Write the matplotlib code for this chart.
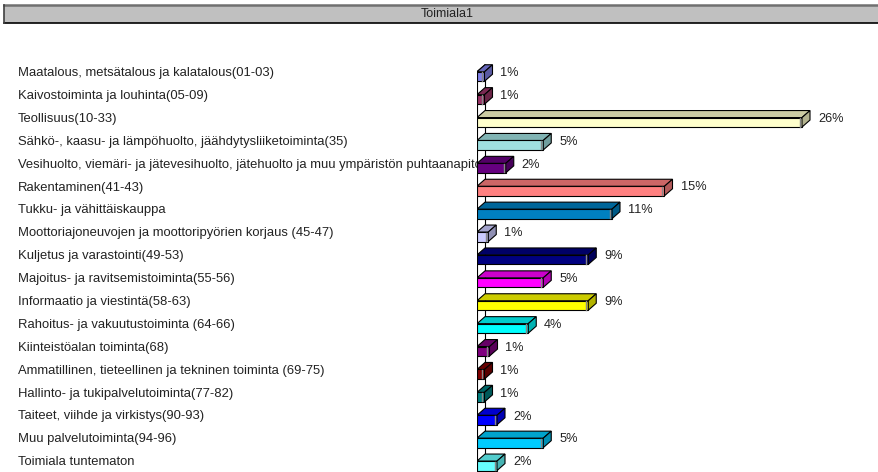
import matplotlib.pyplot as plt
from matplotlib.patches import Polygon, Rectangle
from matplotlib.lines import Line2D
from matplotlib.transforms import blended_transform_factory, Bbox, TransformedBbox

plt.rcParams['font.family'] = ['Liberation Sans', 'DejaVu Sans']

title = 'Toimiala1'
categories = [
    'Maatalous, metsätalous ja kalatalous(01-03)',
    'Kaivostoiminta ja louhinta(05-09)',
    'Teollisuus(10-33)',
    'Sähkö-, kaasu- ja lämpöhuolto, jäähdytysliiketoiminta(35)',
    'Vesihuolto, viemäri- ja jätevesihuolto, jätehuolto ja muu ympäristön puhtaanapito(36-39)',
    'Rakentaminen(41-43)',
    'Tukku- ja vähittäiskauppa',
    'Moottoriajoneuvojen ja moottoripyörien korjaus (45-47)',
    'Kuljetus ja varastointi(49-53)',
    'Majoitus- ja ravitsemistoiminta(55-56)',
    'Informaatio ja viestintä(58-63)',
    'Rahoitus- ja vakuutustoiminta (64-66)',
    'Kiinteistöalan toiminta(68)',
    'Ammatillinen, tieteellinen ja tekninen toiminta (69-75)',
    'Hallinto- ja tukipalvelutoiminta(77-82)',
    'Taiteet, viihde ja virkistys(90-93)',
    'Muu palvelutoiminta(94-96)',
    'Toimiala tuntematon',
]
values = [0.6, 0.6, 26.0, 5.3, 2.3, 15.0, 10.8, 0.9, 8.9, 5.3, 8.9, 4.1, 1.0, 0.6, 0.6, 1.6, 5.3, 1.6]
pct_labels = ['1%', '1%', '26%', '5%', '2%', '15%', '11%', '1%', '9%', '5%',
              '9%', '4%', '1%', '1%', '1%', '2%', '5%', '2%']
colors = ['#8080E8', '#993366', '#FFFFCC', '#A0E0E0', '#660080', '#FF8080',
          '#0080C0', '#CCCCFF', '#000080', '#FF00FF', '#FFFF00', '#00FFFF',
          '#800080', '#800000', '#008080', '#0000FF', '#00CCFF', '#66FFFF']


def darker(c, f=0.8):
    r, g, b = int(c[1:3], 16), int(c[3:5], 16), int(c[5:7], 16)
    return (r / 255 * f, g / 255 * f, b / 255 * f)


W, H = 879, 472
fig = plt.figure(figsize=(W / 100, H / 100), dpi=100)

# plot area: x=0 at pixel 477, 12.5 px per percent; rows 22.9 px apart
x0_px, px_per_pct = 477, 12.5
row_px, first_px, top_px = 22.9, 73, 40
ax = fig.add_axes([x0_px / W, 0, 1 - x0_px / W, (H - top_px) / H])
ax.set_xlim(0, (W - x0_px) / px_per_pct)
ax.set_ylim((H - first_px) / row_px, (top_px - first_px) / row_px)
ax.axis('off')

dx = 8 / px_per_pct       # depth, in percent
dy = 7 / row_px           # depth, in rows
off = 3.5 / row_px        # front face sits a bit below the label
h = 9.5 / row_px

ys = list(range(len(categories)))

# back wall lines
y_top = ys[0] + off - h / 2
y_bot = (H - first_px) / row_px
ax.plot([0, 0], [y_top, y_bot], color='black', lw=0.8, zorder=1)
ax.plot([dx, dx], [y_top - dy, y_bot], color='black', lw=0.8, zorder=1)
ax.plot([0, dx], [y_top, y_top - dy], color='black', lw=0.8, zorder=1)

ax.barh([y + off for y in ys], values, height=h, color=colors,
        edgecolor='black', linewidth=0.8, zorder=3)
for y, v, c, lab in zip(ys, values, colors, pct_labels):
    yt = y + off - h / 2
    yb = y + off + h / 2
    top = Polygon([(0, yt), (v, yt), (v + dx, yt - dy), (dx, yt - dy)],
                  closed=True, facecolor=darker(c, 0.8), edgecolor='black',
                  linewidth=0.8, zorder=3)
    side = Polygon([(v, yt), (v, yb), (v + dx, yb - dy), (v + dx, yt - dy)],
                   closed=True, facecolor=darker(c, 0.7), edgecolor='black',
                   linewidth=0.8, zorder=3)
    ax.add_patch(top)
    ax.add_patch(side)
    ax.plot([v - 2 / px_per_pct] * 2, [yt + 0.02, yb - 0.02], color='#888888',
            lw=1.0, zorder=4)
    ax.text(v + dx + 8 / px_per_pct, y, lab, fontsize=9.2, va='center',
            ha='left', color='#222222', clip_on=False)

# category labels, clipped where the plot starts
trans = blended_transform_factory(fig.transFigure, ax.transData)
clip = TransformedBbox(Bbox([[0, 0], [x0_px / W, 1]]), fig.transFigure)
for y, name in zip(ys, categories):
    t = ax.text(18 / W, y, name, transform=trans, fontsize=9.4, va='center',
                ha='left', color='#222222', zorder=2)
    t.set_clip_on(True)
    t.set_clip_path(None)
    t.set_clip_box(clip)

# title bar
fig.add_artist(Rectangle((4 / W, (H - 23) / H), 1, 18 / H, transform=fig.transFigure,
                         facecolor='#C0C0C0', edgecolor='none'))
fig.add_artist(Line2D([4 / W, 1], [(H - 5) / H] * 2, transform=fig.transFigure,
                      color='#707070', lw=1.8))
fig.add_artist(Line2D([4 / W, 1], [(H - 23) / H] * 2, transform=fig.transFigure,
                      color='black', lw=1.2))
fig.add_artist(Line2D([4 / W] * 2, [(H - 23) / H, (H - 5) / H], transform=fig.transFigure,
                      color='#404040', lw=1.2))
fig.text(447 / W, (H - 14) / H, title, fontsize=9, ha='center', va='center',
         color='#222222')

fig.savefig('out.png', dpi=100)
